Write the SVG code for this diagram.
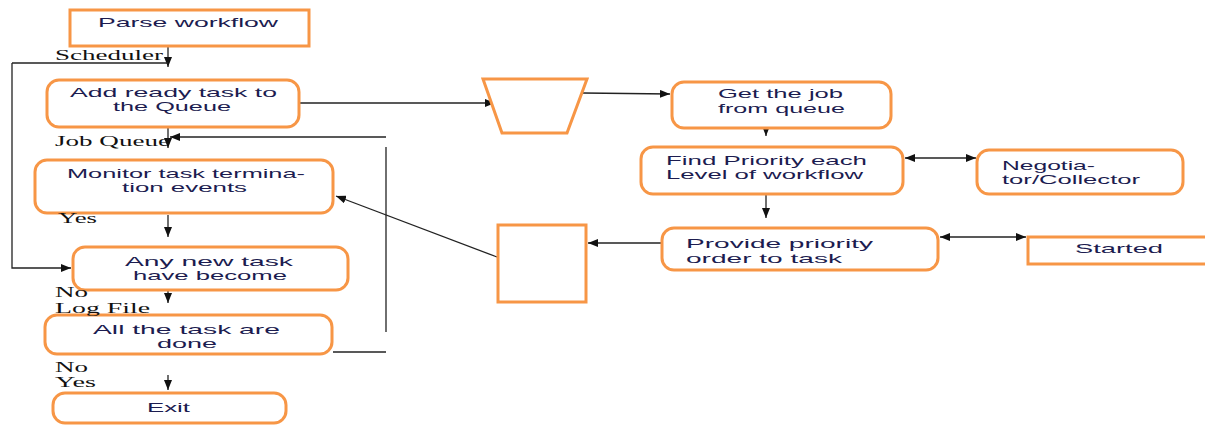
<svg xmlns="http://www.w3.org/2000/svg" width="1205" height="425" viewBox="0 0 1205 425">
<style>
.box{fill:#fff;stroke:#f79646;stroke-width:3}
.t{font-family:"Liberation Sans",Arial,sans-serif;font-size:13px;fill:#1c1c50}
.l{font-family:"Liberation Serif","Times New Roman",serif;font-size:15px;fill:#111}
.c{fill:none;stroke:#222;stroke-width:1.3}
.a{marker-end:url(#ah)}
.d{marker-start:url(#ah);marker-end:url(#ah)}
</style>
<defs>
<marker id="ah" markerUnits="userSpaceOnUse" markerWidth="10" markerHeight="8" refX="10" refY="4" orient="auto-start-reverse">
<path d="M0,0 L10,4 L0,8 z" fill="#111"/>
</marker>
</defs>
<rect width="1205" height="425" fill="#fff"/>

<g id="connectors">
<path class="c a" d="M168,46 V67"/>
<path class="c" d="M12,63 H168"/>
<path class="c a" d="M12,63 V268 H71"/>
<path class="c a" d="M168,127 V148"/>
<path class="c a" d="M386,137 H170"/>
<path class="c" d="M386,147 V332"/>
<path class="c" d="M333,352 H386"/>
<path class="c a" d="M168,215 V237"/>
<path class="c a" d="M168,290 V303"/>
<path class="c a" d="M168,375 V390"/>
<path class="c a" d="M300,103 H495"/>
<path class="c a" d="M583,93 L670,94"/>
<path class="c a" d="M766,128 V136"/>
<path class="c a" d="M766,194 V218"/>
<path class="c a" d="M662,243 H588"/>
<path class="c a" d="M497,257 L336,196"/>
<path class="c d" d="M905,158 H976"/>
<path class="c d" d="M940,237 H1026"/>
</g>

<g id="parse"><rect class="box" x="70" y="10" width="239" height="36"/>
<text class="t" x="98" y="27" textLength="180" lengthAdjust="spacingAndGlyphs">Parse workflow</text></g>

<g id="add"><rect class="box" x="47" y="80" width="252" height="47" rx="12"/>
<text class="t" x="70" y="97" textLength="207" lengthAdjust="spacingAndGlyphs">Add ready task to</text>
<text class="t" x="113" y="111" textLength="118" lengthAdjust="spacingAndGlyphs">the Queue</text></g>

<g id="monitor"><rect class="box" x="35" y="160" width="298" height="53" rx="12"/>
<text class="t" x="67" y="178" textLength="238" lengthAdjust="spacingAndGlyphs">Monitor task termina-</text>
<text class="t" x="122" y="192" textLength="125" lengthAdjust="spacingAndGlyphs">tion events</text></g>

<g id="anynew"><rect class="box" x="73" y="247" width="275" height="43" rx="12"/>
<text class="t" x="125" y="266" textLength="168" lengthAdjust="spacingAndGlyphs">Any new task</text>
<text class="t" x="133" y="280" textLength="154" lengthAdjust="spacingAndGlyphs">have become</text></g>

<g id="alldone"><rect class="box" x="45" y="315" width="287" height="39" rx="12"/>
<text class="t" x="93" y="334" textLength="187" lengthAdjust="spacingAndGlyphs">All the task are</text>
<text class="t" x="157" y="348" textLength="60" lengthAdjust="spacingAndGlyphs">done</text></g>

<g id="exit"><rect class="box" x="53" y="393" width="233" height="30" rx="12"/>
<text class="t" x="147" y="412" textLength="43" lengthAdjust="spacingAndGlyphs">Exit</text></g>

<g id="queue"><path class="box" d="M483,79 H587 L567,133 H502 Z"/></g>

<g id="store"><rect class="box" x="498" y="225" width="88" height="77"/></g>

<g id="getjob"><rect class="box" x="672" y="82" width="219" height="46" rx="12"/>
<text class="t" x="718" y="98" textLength="125" lengthAdjust="spacingAndGlyphs">Get the job</text>
<text class="t" x="718" y="113" textLength="127" lengthAdjust="spacingAndGlyphs">from queue</text></g>

<g id="findpriority"><rect class="box" x="641" y="147" width="262" height="47" rx="12"/>
<text class="t" x="666" y="165" textLength="201" lengthAdjust="spacingAndGlyphs">Find Priority each</text>
<text class="t" x="666" y="179" textLength="197" lengthAdjust="spacingAndGlyphs">Level of workflow</text></g>

<g id="negotiator"><rect class="box" x="977" y="150" width="206" height="44" rx="12"/>
<text class="t" x="1002" y="170" textLength="93" lengthAdjust="spacingAndGlyphs">Negotia-</text>
<text class="t" x="1002" y="184" textLength="138" lengthAdjust="spacingAndGlyphs">tor/Collector</text></g>

<g id="provide"><rect class="box" x="662" y="228" width="276" height="42" rx="12"/>
<text class="t" x="686" y="248" textLength="187" lengthAdjust="spacingAndGlyphs">Provide priority</text>
<text class="t" x="686" y="263" textLength="156" lengthAdjust="spacingAndGlyphs">order to task</text></g>

<g id="started"><rect class="box" x="1028" y="237" width="190" height="27"/>
<text class="t" x="1075" y="253" textLength="88" lengthAdjust="spacingAndGlyphs">Started</text></g>

<g id="labels">
<text class="l" x="55" y="60" textLength="108" lengthAdjust="spacingAndGlyphs">Scheduler</text>
<text class="l" x="55" y="146" textLength="115" lengthAdjust="spacingAndGlyphs">Job Queue</text>
<text class="l" x="58" y="223" textLength="39" lengthAdjust="spacingAndGlyphs">Yes</text>
<text class="l" x="55" y="297" textLength="33" lengthAdjust="spacingAndGlyphs">No</text>
<text class="l" x="55" y="313" textLength="95" lengthAdjust="spacingAndGlyphs">Log File</text>
<text class="l" x="55" y="372" textLength="33" lengthAdjust="spacingAndGlyphs">No</text>
<text class="l" x="55" y="387" textLength="41" lengthAdjust="spacingAndGlyphs">Yes</text>
</g>
</svg>
